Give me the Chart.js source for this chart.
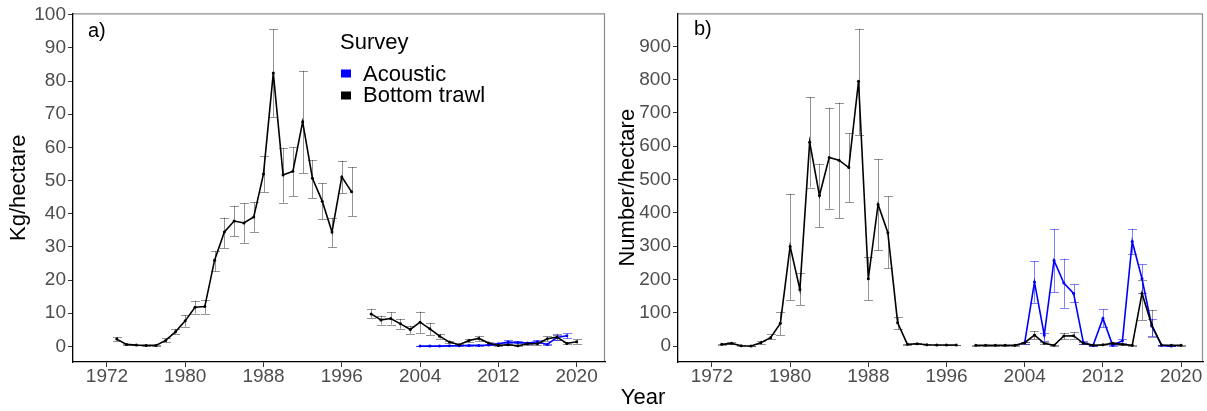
<!DOCTYPE html>
<html>
<head>
<meta charset="utf-8">
<script src="https://cdn.jsdelivr.net/npm/chart.js@4.4.1/dist/chart.umd.min.js"></script>
<style>
html,body{margin:0;padding:0;background:#fff;}
#wa{position:absolute;left:0;top:0;width:610px;height:411px;}
#wb{position:absolute;left:610px;top:0;width:597px;height:411px;}
</style>
</head>
<body>
<div id="wa"><canvas id="ca"></canvas></div>
<div id="wb"><canvas id="cb"></canvas></div>
<script>
// ---------- data ----------
const btYears = [1973,1974,1975,1976,1977,1978,1979,1980,1981,1982,1983,1984,1985,1986,1987,1988,1989,1990,1991,1992,1993,1994,1995,1996,1997,1998,1999,2000,2001,2002,2003,2004,2005,2006,2007,2008,2009,2010,2011,2012,2013,2014,2015,2016,2017,2018,2019,2020];
const acYears = [2004,2005,2006,2007,2008,2009,2010,2011,2012,2013,2014,2015,2016,2017,2018,2019];

// panel a: Kg/hectare
const btKg    = [2.2,0.6,0.4,0.3,0.3,1.8,4.4,7.7,11.8,12.0,26.0,34.5,37.8,37.2,39.0,52.0,82.4,51.7,52.8,67.7,50.7,43.8,34.5,51.1,46.6,null,9.8,8.0,8.4,6.8,5.1,7.3,5.3,3.1,1.3,0.5,1.8,2.4,1.0,0.3,0.5,0.2,0.8,0.8,2.3,2.8,0.9,1.4];
const btKgLo  = [1.6,0.4,0.3,0.2,0.2,1.3,3.6,5.9,9.9,9.8,22.6,29.6,33.2,31.2,34.6,46.5,69.1,43.3,45.3,52.2,44.7,38.3,29.9,46.2,39.3,null,8.6,6.6,6.6,5.3,3.8,4.1,3.3,2.3,1.0,0.3,1.3,1.6,0.7,0.2,0.3,0.1,0.5,0.5,1.6,2.0,0.6,0.8];
const btKgHi  = [2.9,0.8,0.5,0.4,0.4,2.6,5.3,9.5,13.8,14.0,28.7,38.8,42.4,43.2,43.5,57.4,95.6,59.8,60.1,83.1,56.2,49.2,38.8,55.9,54.1,null,11.2,9.3,10.3,8.3,6.3,10.5,7.1,3.8,1.6,0.7,2.3,3.2,1.3,0.4,0.7,0.3,1.1,1.1,3.0,3.8,1.3,2.1];
const acKg    = [0.1,0.1,0.1,0.2,0.2,0.3,0.3,0.4,0.8,1.3,1.2,1.0,1.4,0.6,2.7,3.2];
const acKgLo  = [0.05,0.05,0.05,0.1,0.1,0.2,0.2,0.3,0.5,0.9,0.9,0.7,1.0,0.4,2.0,2.4];
const acKgHi  = [0.15,0.15,0.15,0.3,0.3,0.4,0.4,0.5,1.1,1.8,1.5,1.3,1.8,0.8,3.4,3.9];

// panel b: Number/hectare
const btNum   = [5,8,1,0,10,25,68,299,170,612,452,566,558,536,795,202,425,340,70,5,7,4,3,3,3,null,2,2,2,2,2,10,33,8,2,30,31,8,2,4,8,5,2,158,63,3,2,2];
const btNumLo = [3,5,0,0,5,20,33,138,123,476,357,412,384,432,634,138,287,234,50,3,5,2,2,2,2,null,1,1,1,1,1,7,20,5,1,20,22,5,1,2,5,3,1,78,28,2,1,1];
const btNumHi = [7,11,2,1,16,35,103,457,219,747,546,716,731,639,952,267,561,449,86,7,9,6,4,4,4,null,3,3,3,3,3,13,45,11,3,40,42,11,3,6,11,7,3,197,108,4,3,3];
const acNum   = [10,192,33,257,189,158,10,2,83,2,16,314,202,60,2,0];
const acNumLo = [7,130,15,161,115,131,6,1,56,1,10,277,158,30,1,0];
const acNumHi = [13,255,40,351,262,185,14,3,110,3,22,351,245,80,3,1];

const xTickVals  = [1972,1980,1988,1996,2004,2012,2020];
const yTicksA    = [0,10,20,30,40,50,60,70,80,90,100];
const yTicksB    = [0,100,200,300,400,500,600,700,800,900];
const seriesNames = ['Acoustic','Bottom trawl'];

// ---------- helpers ----------
const FONT = '"Liberation Sans", Arial, sans-serif';
function pts(xs, ys){ return xs.map((x,i)=>({x:x, y:ys[i]})); }

const errPlugin = {
  id:'errbars',
  beforeDatasetsDraw(chart){
    const ctx = chart.ctx, xs = chart.scales.x, ys = chart.scales.y;
    chart.data.datasets.forEach((ds)=>{
      if(!ds.errLo) return;
      ctx.save();
      ctx.strokeStyle = ds.errColor;
      ctx.lineWidth = 1;
      ds.data.forEach((p,j)=>{
        const lo = ds.errLo[j], hi = ds.errHi[j];
        if(lo==null || hi==null) return;
        const x = Math.round(xs.getPixelForValue(p.x))+0.5;
        const y1 = ys.getPixelForValue(lo), y2 = ys.getPixelForValue(hi);
        ctx.beginPath();
        ctx.moveTo(x,y1); ctx.lineTo(x,y2);
        ctx.moveTo(x-4.5,Math.round(y1)+0.5); ctx.lineTo(x+4.5,Math.round(y1)+0.5);
        ctx.moveTo(x-4.5,Math.round(y2)+0.5); ctx.lineTo(x+4.5,Math.round(y2)+0.5);
        ctx.stroke();
      });
      ctx.restore();
    });
  },
  afterDraw(chart){
    const ctx = chart.ctx, a = chart.chartArea;
    const o = chart.options.plugins.errbars;
    ctx.save();
    // top & right panel border
    ctx.strokeStyle = 'rgba(0,0,0,0.45)';
    ctx.lineWidth = 1.2;
    ctx.beginPath();
    ctx.moveTo(a.left, a.top+0.5); ctx.lineTo(a.right-0.5, a.top+0.5); ctx.lineTo(a.right-0.5, a.bottom);
    ctx.stroke();
    // panel label
    ctx.fillStyle = '#000';
    ctx.font = '20px ' + FONT;
    ctx.textBaseline = 'alphabetic';
    ctx.textAlign = 'left';
    ctx.fillText(o.label, o.labelX, o.labelY);
    if(o.legend){
      ctx.font = '22px ' + FONT;
      ctx.fillText('Survey', 340, 49);
      ctx.fillStyle = '#0000ff';
      ctx.fillRect(341, 69.5, 10, 8);
      ctx.fillStyle = '#000';
      ctx.fillRect(341, 91.5, 10, 8);
      ctx.fillText(seriesNames[0], 363, 81);
      ctx.fillText(seriesNames[1], 363, 102);
    }
    if(o.xTitle){
      ctx.font = '22px ' + FONT;
      ctx.textAlign = 'center';
      ctx.fillText(o.xTitle, 33, 404);
    }
    ctx.restore();
  }
};

function makeChart(id, cfg){
  return new Chart(document.getElementById(id), {
    type:'line',
    data:{datasets:[
      {label:seriesNames[1], data:pts(btYears,cfg.bt), errLo:cfg.btLo, errHi:cfg.btHi, errColor:'rgba(0,0,0,0.42)',
       borderColor:'#000', backgroundColor:'#000', borderWidth:1.6, pointRadius:1.5, pointBorderWidth:0, spanGaps:false, tension:0},
      {label:seriesNames[0], data:pts(acYears,cfg.ac), errLo:cfg.acLo, errHi:cfg.acHi, errColor:'rgba(0,0,255,0.5)',
       borderColor:'#0000ff', backgroundColor:'#0000ff', borderWidth:1.6, pointRadius:1.5, pointBorderWidth:0, spanGaps:false, tension:0}
    ]},
    options:{
      responsive:true, maintainAspectRatio:false, animation:false,
      layout:{padding:{left:0,right:cfg.padRight,top:12,bottom:0}},
      events:[],
      plugins:{legend:{display:false}, tooltip:{enabled:false},
        errbars:{label:cfg.label, labelX:cfg.labelX, labelY:cfg.labelY, legend:cfg.legend, xTitle:cfg.xTitle}},
      scales:{
        x:{type:'linear', min:cfg.xMin, max:cfg.xMax,
           afterBuildTicks:(s)=>{ s.ticks = xTickVals.map(v=>({value:v})); },
           afterFit:(s)=>{ s.height = 49; },
           grid:{drawOnChartArea:false, drawTicks:true, tickLength:5, color:'#333', tickWidth:1},
           border:{display:true, color:'#000', width:1.3},
           ticks:{color:'#4d4d4d', font:{family:FONT, size:19}, padding:-2, maxRotation:0, autoSkip:false, callback:(v)=>String(v)}},
        y:{type:'linear', min:cfg.yMin, max:cfg.yMax,
           afterBuildTicks:(s)=>{ s.ticks = cfg.yTicks.map(v=>({value:v})); },
           afterFit:(s)=>{ s.width = cfg.yWidth; },
           grid:{drawOnChartArea:false, drawTicks:true, tickLength:5, color:'#333', tickWidth:1},
           border:{display:true, color:'#000', width:1.3},
           title:{display:true, text:cfg.yTitle, color:'#000', font:{family:FONT, size:22}, padding:{top:cfg.titlePad, bottom:0}},
           ticks:{color:'#4d4d4d', font:{family:FONT, size:19}, padding:2, autoSkip:false, callback:(v)=>String(v)}}
      }
    },
    plugins:[errPlugin]
  });
}

makeChart('ca', {bt:btKg, btLo:btKgLo, btHi:btKgHi, ac:acKg, acLo:acKgLo, acHi:acKgHi,
  xMin:1968.53, xMax:2022.9, yMin:-4.7, yMax:100.4, yTicks:yTicksA, yWidth:73, padRight:5,
  yTitle:'Kg/hectare', titlePad:6, label:'a)', labelX:88, labelY:37, legend:true, xTitle:null});

makeChart('cb', {bt:btNum, btLo:btNumLo, btHi:btNumHi, ac:acNum, acLo:acNumLo, acHi:acNumHi,
  xMin:1968.53, xMax:2022.24, yMin:-48, yMax:998.8, yTicks:yTicksB, yWidth:68, padRight:2,
  yTitle:'Number/hectare', titlePad:5, label:'b)', labelX:84, labelY:35, legend:false, xTitle:'Year'});
</script>
</body>
</html>
